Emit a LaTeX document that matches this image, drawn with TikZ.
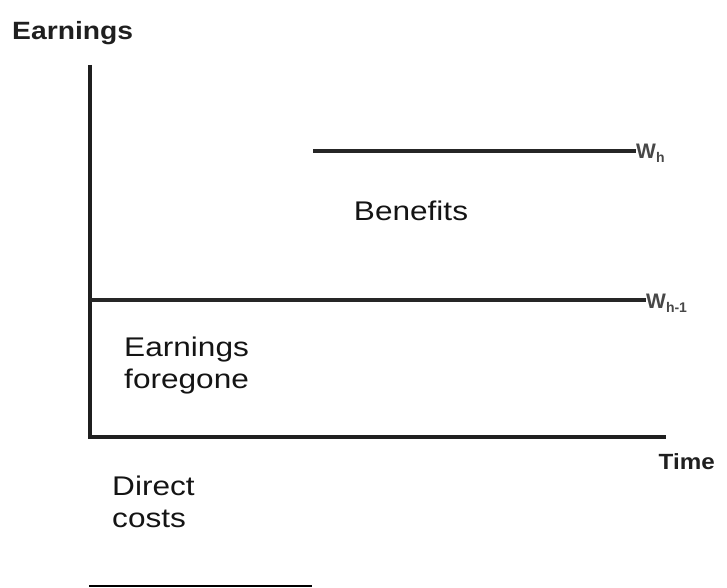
\documentclass[tikz,border=0pt]{standalone}
\usepackage{fontspec}
\setmainfont{Liberation Sans}
\begin{document}
\begin{tikzpicture}[x=1pt,y=-1pt,
  axis/.style={line width=3.4pt,draw=black!88},
  level/.style={line width=3.6pt,draw=black!85},
  lbl/.style={inner sep=0pt,xscale=1.17,font=\fontsize{27}{32}\selectfont,text=black!92},
  axlbl/.style={inner sep=0pt,text=black!88},
  wlbl/.style={inner sep=0pt,anchor=base west,font=\fontsize{21}{22}\selectfont\bfseries,text=black!72}]
\useasboundingbox (0,0) rectangle (727,588);
% axes
\coordinate (top) at (90,65);
\coordinate (origin) at (90,437);
\coordinate (xend) at (666,437);
\draw[axis] (top) -- (origin) -- (xend);
% earnings levels
\coordinate (wh0) at (313,151);
\coordinate (wh1) at (636,151);
\coordinate (wl0) at (90,300);
\coordinate (wl1) at (646,300);
\draw[level] (wh0) -- (wh1);
\draw[level] (wl0) -- (wl1);
\node[wlbl] (wh) at (636,159) {W\raisebox{-4pt}{\fontsize{14}{14}\selectfont h}};
\node[wlbl] (wl) at (646,308) {W\raisebox{-4pt}{\fontsize{14}{14}\selectfont h-1}};
% axis titles
\node[axlbl,xscale=1.13,anchor=base west,font=\fontsize{25}{28}\selectfont\bfseries] (ylab) at (12,40) {Earnings};
\node[axlbl,xscale=1.1,anchor=base east,font=\fontsize{22}{26}\selectfont\bfseries] (xlab) at (715,469) {Time};
% region labels
\node[lbl,anchor=base] (benefits) at (411,220) {Benefits};
\node[lbl,align=left,anchor=north west] (forgone) at (124,337) {Earnings\\foregone};
\node[lbl,align=left,anchor=north west] (direct) at (112,476) {Direct\\costs};
% short rule below
\coordinate (r0) at (89,586);
\coordinate (r1) at (312,586);
\draw[line width=2.2pt] (r0) -- (r1);
\end{tikzpicture}
\end{document}
